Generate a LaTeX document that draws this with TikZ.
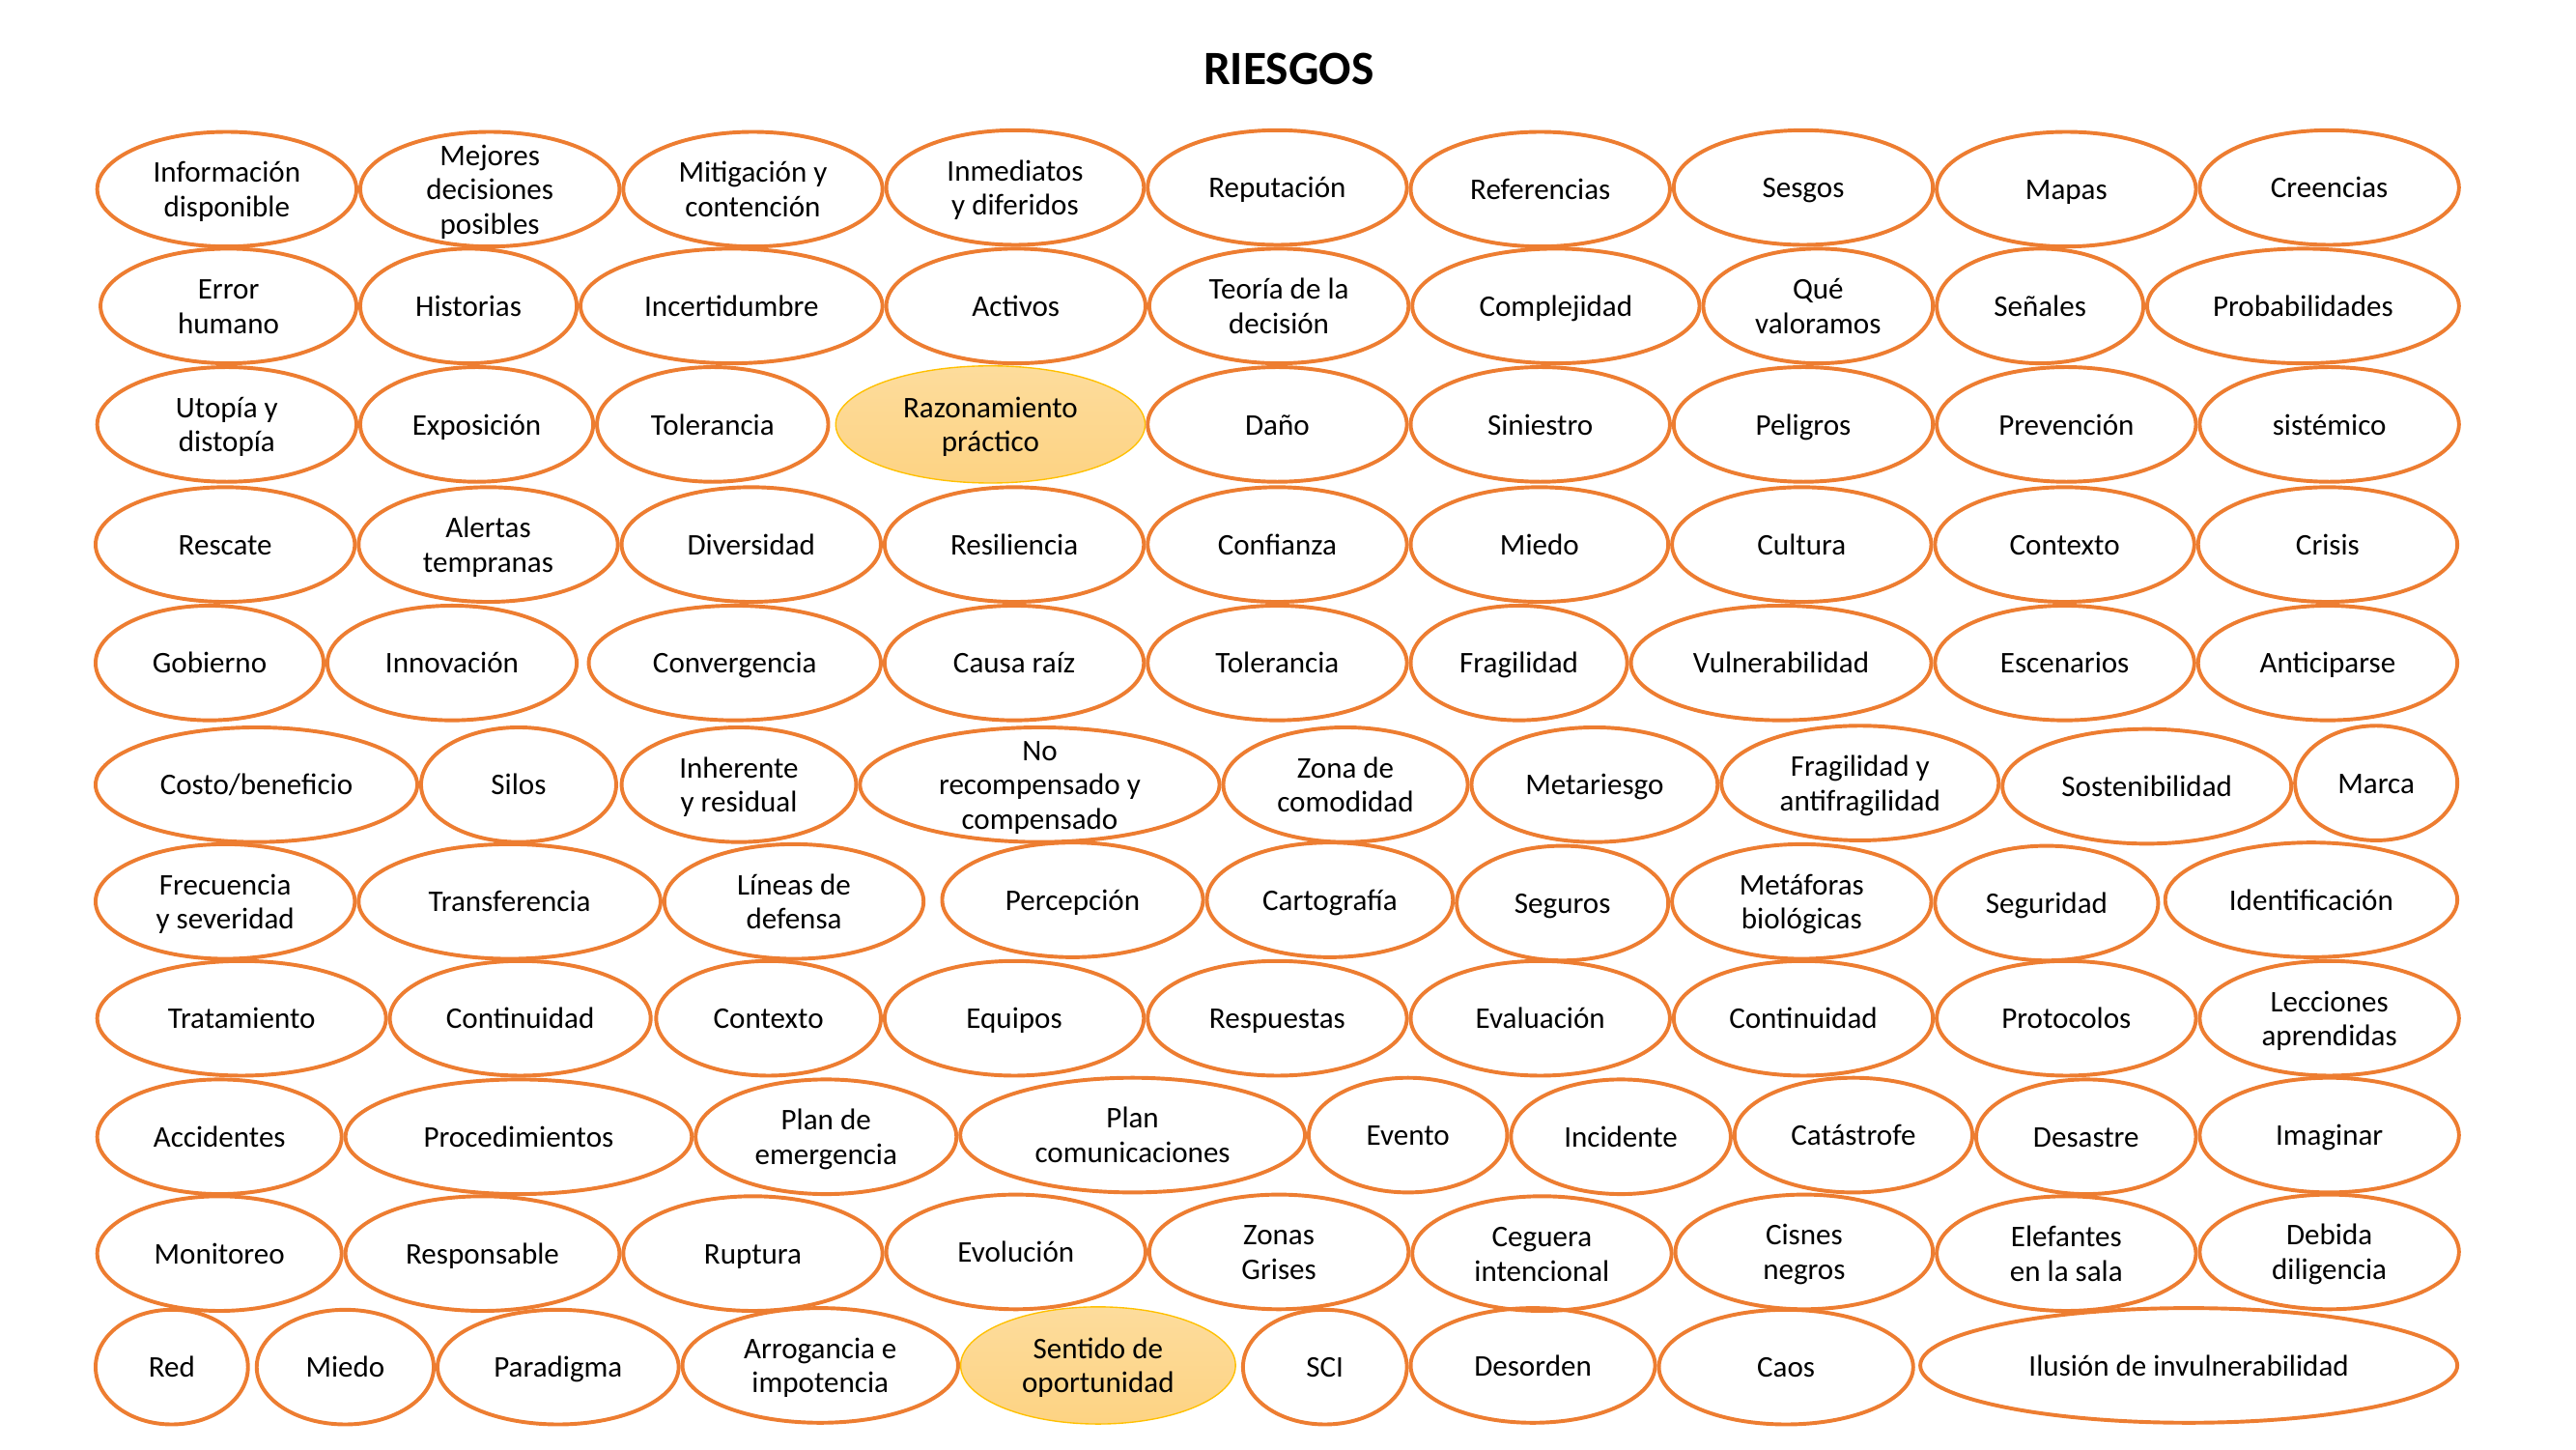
\documentclass[tikz,border=0pt]{standalone}
\usepackage{fontspec}
\setmainfont{Carlito}
\usetikzlibrary{shapes.geometric}
\definecolor{orng}{HTML}{ED7D31}
\definecolor{gold}{HTML}{FFC000}
\definecolor{hltop}{HTML}{FDDC9C}
\definecolor{hlbot}{HTML}{FDD383}
\newcommand\ovl[7][ov]{%
  \node[#1, minimum width=#5*0.9976pt-2.3pt, minimum height=#6*0.9982pt-2.3pt] (#2) at (#3,#4) {};
  \node[lbl] (#2t) at (#2.center) {\strut #7\strut};}
\begin{document}
\begin{tikzpicture}[x=0.9976pt,y=-0.9982pt,
  ov/.style={ellipse, draw=orng, line width=2.3pt, inner sep=0pt},
  hl/.style={ellipse, draw=gold, line width=0.8pt, top color=hltop, bottom color=hlbot, inner sep=0pt},
  lbl/.style={align=center, inner sep=0pt, yshift=-2.1pt, font=\fontsize{18.2}{20.8}\selectfont},
  ttl/.style={inner sep=0pt, font=\fontsize{29}{33}\selectfont\bfseries}]
\useasboundingbox (0pt,0pt) rectangle (1563.3pt,-879.25pt);
\node[ttl] (title) at (784,42) {RIESGOS};
% Row 1
\ovl{r1a}{138}{115}{160}{72}{Información\\disponible}
\ovl{r1b}{298}{115}{160}{72}{Mejores\\decisiones\\posibles}
\ovl{r1c}{458}{115}{160}{72}{Mitigación y\\contención}
\ovl{r1d}{617.5}{114}{159}{72}{Inmediatos\\y diferidos}
\ovl{r1e}{777}{114}{160}{72}{Reputación}
\ovl{r1f}{937}{115}{160}{72}{Referencias}
\ovl{r1g}{1097}{114}{160}{72}{Sesgos}
\ovl{r1h}{1257}{115}{160}{72}{Mapas}
\ovl{r1i}{1417}{114}{160}{72}{Creencias}
% Row 2
\ovl{r2a}{139}{186}{158}{72}{Error\\humano}
\ovl{r2b}{285}{186}{134}{72}{Historias}
\ovl{r2c}{445}{186}{186}{72}{Incertidumbre}
\ovl{r2d}{618}{186}{160}{72}{Activos}
\ovl{r2e}{778}{186}{160}{72}{Teoría de la\\decisión}
\ovl{r2f}{946.5}{186}{177}{72}{Complejidad}
\ovl{r2g}{1106}{186}{142}{72}{Qué\\valoramos}
\ovl{r2h}{1241}{186}{128}{72}{Señales}
\ovl{r2i}{1401}{186}{192}{72}{Probabilidades}
% Row 3
\ovl{r3a}{138}{258}{160}{72}{Utopía y\\distopía}
\ovl{r3b}{290}{258}{144}{72}{Exposición}
\ovl{r3c}{433.5}{258}{143}{72}{Tolerancia}
\ovl[hl]{r3d}{602.5}{258}{190.5}{73.5}{Razonamiento\\práctico}
\ovl{r3e}{777}{258}{160}{72}{Daño}
\ovl{r3f}{937}{258}{160}{72}{Siniestro}
\ovl{r3g}{1097}{258}{160}{72}{Peligros}
\ovl{r3h}{1257}{258}{160}{72}{Prevención}
\ovl{r3i}{1417}{258}{160}{72}{sistémico}
% Row 4
\ovl{r4a}{137}{331}{160}{72}{Rescate}
\ovl{r4b}{297}{331}{160}{72}{Alertas\\tempranas}
\ovl{r4c}{457}{331}{160}{72}{Diversidad}
\ovl{r4d}{617}{331}{160}{72}{Resiliencia}
\ovl{r4e}{777}{331}{160}{72}{Confianza}
\ovl{r4f}{936.5}{331}{159}{72}{Miedo}
\ovl{r4g}{1096}{331}{160}{72}{Cultura}
\ovl{r4h}{1256}{331}{160}{72}{Contexto}
\ovl{r4i}{1416}{331}{160}{72}{Crisis}
% Row 5
\ovl{r5a}{127.5}{403}{141}{72}{Gobierno}
\ovl{r5b}{275}{403}{154}{72}{Innovación}
\ovl{r5c}{447}{403}{180}{72}{Convergencia}
\ovl{r5d}{617}{403}{160}{72}{Causa raíz}
\ovl{r5e}{777}{403}{160}{72}{Tolerancia}
\ovl{r5f}{924}{403}{134}{72}{Fragilidad}
\ovl{r5g}{1083.5}{403}{185}{72}{Vulnerabilidad}
\ovl{r5h}{1256}{403}{160}{72}{Escenarios}
\ovl{r5i}{1416}{403}{160}{72}{Anticiparse}
% Row 6
\ovl{r6a}{156}{477}{198}{72}{Costo/beneficio}
\ovl{r6b}{315.5}{477}{121}{72}{Silos}
\ovl{r6c}{449.5}{477}{145}{72}{Inherente\\y residual}
\ovl{r6d}{632.5}{477}{221}{72}{No\\recompensado y\\compensado}
\ovl{r6e}{818.5}{477}{151}{72}{Zona de\\comodidad}
\ovl{r6f}{970}{477}{152}{72}{Metariesgo}
\ovl{r6g}{1131.5}{476}{171}{72}{Fragilidad y\\antifragilidad}
\ovl{r6h}{1306}{478}{178}{72}{Sostenibilidad}
\ovl{r6i}{1445.5}{476}{101}{72}{Marca}
% Row 7
\ovl{r7a}{137}{548}{160}{72}{Frecuencia\\y severidad}
\ovl{r7b}{310}{548}{186}{72}{Transferencia}
\ovl{r7c}{483}{548}{160}{72}{Líneas de\\defensa}
\ovl{r7d}{652.5}{547}{161}{72}{Percepción}
\ovl{r7e}{809}{547}{152}{72}{Cartografía}
\ovl{r7f}{950.5}{549}{131}{72}{Seguros}
\ovl{r7g}{1096}{548}{160}{72}{Metáforas\\biológicas}
\ovl{r7h}{1245}{549}{138}{72}{Seguridad}
\ovl{r7i}{1406}{547}{180}{72}{Identificación}
% Row 8
\ovl{r8a}{147}{619}{178}{72}{Tratamiento}
\ovl{r8b}{316.5}{619}{161}{72}{Continuidad}
\ovl{r8c}{467.5}{619}{139}{72}{Contexto}
\ovl{r8d}{617}{619}{160}{72}{Equipos}
\ovl{r8e}{777}{619}{160}{72}{Respuestas}
\ovl{r8f}{937}{619}{160}{72}{Evaluación}
\ovl{r8g}{1097}{619}{160}{72}{Continuidad}
\ovl{r8h}{1257}{619}{160}{72}{Protocolos}
\ovl{r8i}{1417}{619}{160}{72}{Lecciones\\aprendidas}
% Row 9
\ovl{r9a}{133.5}{691}{151}{72}{Accidentes}
\ovl{r9b}{315.5}{691}{213}{72}{Procedimientos}
\ovl{r9c}{502.5}{691}{161}{72}{Plan de\\emergencia}
\ovl{r9d}{689}{690}{212}{72}{Plan\\comunicaciones}
\ovl{r9e}{856.5}{690}{123}{72}{Evento}
\ovl{r9f}{986}{691}{136}{72}{Incidente}
\ovl{r9g}{1127.5}{690}{147}{72}{Catástrofe}
\ovl{r9h}{1269}{691}{136}{72}{Desastre}
\ovl{r9i}{1417}{690}{160}{72}{Imaginar}
% Row 10
\ovl{r10a}{133.5}{762}{151}{72}{Monitoreo}
\ovl{r10b}{293.5}{762}{169}{72}{Responsable}
\ovl{r10c}{458}{762}{160}{72}{Ruptura}
\ovl{r10d}{618}{761}{160}{72}{Evolución}
\ovl{r10e}{778}{761}{160}{72}{Zonas\\Grises}
\ovl{r10f}{938}{762}{160}{72}{Ceguera\\intencional}
\ovl{r10g}{1097.5}{761}{159}{72}{Cisnes\\negros}
\ovl{r10h}{1257}{762}{160}{72}{Elefantes\\en la sala}
\ovl{r10i}{1417}{761}{160}{72}{Debida\\diligencia}
% Row 11
\ovl{r11a}{104.5}{831}{95}{72}{Red}
\ovl{r11b}{210}{831}{110}{72}{Miedo}
\ovl{r11c}{339.5}{831}{149}{72}{Paradigma}
\ovl{r11d}{499}{830}{170}{72}{Arrogancia e\\impotencia}
\ovl[hl]{r11e}{668}{830}{169.5}{73.5}{Sentido de\\oportunidad}
\ovl{r11f}{806}{831}{102}{72}{SCI}
\ovl{r11g}{932.5}{830}{151}{72}{Desorden}
\ovl{r11h}{1086.5}{831}{157}{72}{Caos}
\ovl{r11i}{1331.5}{830}{329}{72}{Ilusión de invulnerabilidad}
\end{tikzpicture}
\end{document}
